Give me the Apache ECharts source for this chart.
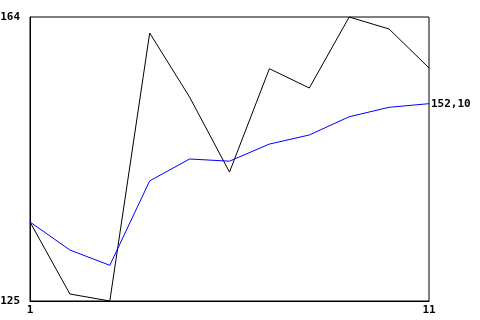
<!DOCTYPE html>
<html><head><meta charset="utf-8">
<script src="https://cdn.jsdelivr.net/npm/echarts@6/dist/echarts.min.js"></script>
<style>html,body{margin:0;padding:0;background:#fff}#c{width:480px;height:320px}</style>
</head><body><div id="c"></div>
<script>
var xValues = [1, 2, 3, 4, 5, 6, 7, 8, 9, 10, 11];
var blackSeries = [135.85, 125.96, 125.0, 161.8, 153.0, 142.7, 156.9, 154.25, 164.0, 162.35, 157.0];
var blueSeries = [135.85, 132.0, 129.9, 141.5, 144.5, 144.2, 146.55, 147.8, 150.3, 151.6, 152.1];
var yTicks = [125, 164];
var xTicks = [1, 11];
var endLabelText = '152,10';

var font = {fontFamily: 'DejaVu Sans Mono', fontWeight: 'bold', fontSize: 11, color: '#000'};
function pairs(ys){ return xValues.map(function(x,i){ return [x, ys[i]]; }); }

var chart = echarts.init(document.getElementById('c'), null, {renderer:'canvas'});
chart.setOption({
  animation: false,
  backgroundColor: '#fff',
  grid: {left: 30, right: 51, top: 17, bottom: 19, containLabel: false, outerBoundsMode: 'none',
         show: true, borderColor: '#000', borderWidth: 1, backgroundColor: 'transparent'},
  xAxis: {
    type: 'value', min: xTicks[0], max: xTicks[1],
    axisLine: {show: true, lineStyle: {color: '#000', width: 1}},
    axisTick: {show: false}, splitLine: {show: false},
    axisLabel: Object.assign({margin: 4, showMinLabel: true, showMaxLabel: true,
      formatter: function(v){ return xTicks.indexOf(v) >= 0 ? String(v) : ''; }}, font)
  },
  yAxis: {
    type: 'value', min: yTicks[0], max: yTicks[1],
    axisLine: {show: true, lineStyle: {color: '#000', width: 1}},
    axisTick: {show: false}, splitLine: {show: false},
    axisLabel: Object.assign({margin: 10, showMinLabel: true, showMaxLabel: true,
      formatter: function(v){ return yTicks.indexOf(v) >= 0 ? String(v) : ''; }}, font)
  },
  series: [
    {type: 'line', data: pairs(blackSeries), showSymbol: false, symbol: 'none',
     lineStyle: {color: '#000', width: 1}, itemStyle: {color: '#000'}, silent: true, clip: false},
    {type: 'line', data: pairs(blueSeries), showSymbol: false, symbol: 'none',
     lineStyle: {color: '#0000ff', width: 1}, itemStyle: {color: '#0000ff'}, silent: true, clip: false,
     endLabel: Object.assign({show: true, distance: 2, formatter: function(){ return endLabelText; }}, font)}
  ]
});
</script></body></html>
